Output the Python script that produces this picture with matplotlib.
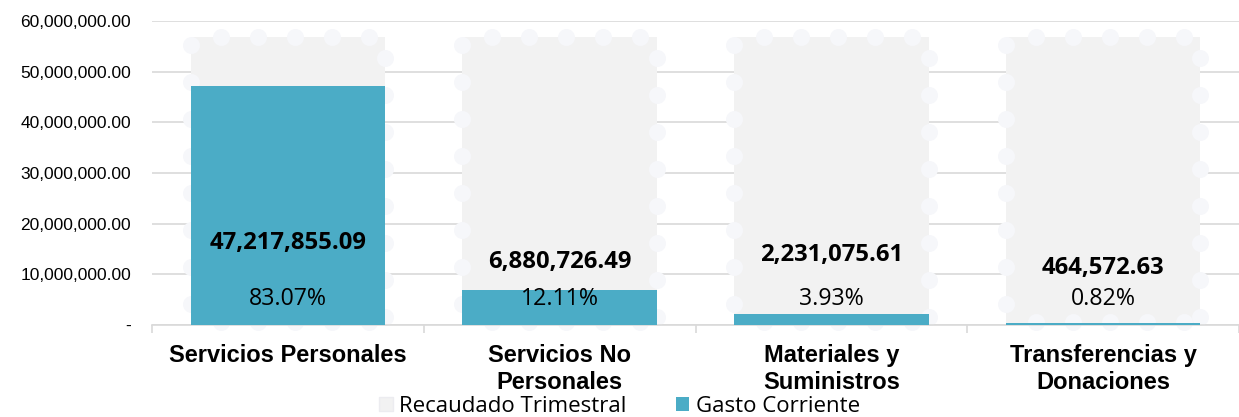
import matplotlib
matplotlib.use("Agg")
import matplotlib.pyplot as plt
import numpy as np
from matplotlib.patches import Patch
from matplotlib.ticker import FuncFormatter, FixedLocator

categories = ["Servicios Personales", "Servicios No\nPersonales", "Materiales y\nSuministros", "Transferencias y\nDonaciones"]
gasto = [47217855.09, 6880726.49, 2231075.61, 464572.63]
value_labels = ["47,217,855.09", "6,880,726.49", "2,231,075.61", "464,572.63"]
pct_labels = ["83.07%", "12.11%", "3.93%", "0.82%"]
recaudado_total = sum(gasto)
recaudado = [recaudado_total] * len(categories)
value_label_y = [16.2e6, 12.4e6, 13.8e6, 11.25e6]
pct_label_y = [5.1e6, 5.1e6, 5.1e6, 5.1e6]

blue = "#4BACC6"
gray = "#F2F2F2"
dot = "#F6F7FA"
bar_w = 0.715

fig = plt.figure(figsize=(12.39, 4.17), dpi=100)
ax = fig.add_axes([152/1239, 1-325/417, 1-152/1239, (325-21)/417])
ax.set_xlim(-0.5, len(categories) - 0.5)
ax.set_ylim(0, 60e6)

x = list(range(len(categories)))
ax.bar(x, recaudado, width=bar_w, color=gray, zorder=1)
ax.bar(x, gasto, width=bar_w, color=blue, zorder=3)

# scalloped border of the background bars (decoration derived from bar geometry)
spacing = 37.0
inv = ax.transData.inverted()
for i in x:
    (px0, py0) = ax.transData.transform((i - bar_w / 2, 0))
    (px1, py1) = ax.transData.transform((i + bar_w / 2, recaudado[i]))
    pts = []
    for t in np.arange(px0 + 30, px1 - 5, spacing):
        pts.append((t, py1))
    for t in np.arange(py1 - 8, py0 + 2, -spacing):
        pts.append((px0, t))
    for t in np.arange(py1 - 21, py0 + 2, -spacing):
        pts.append((px1, t))
    for t in np.arange(px0 + 30, px1 - 5, spacing):
        pts.append((t, py0 + 3))
    data_pts = inv.transform(np.array(pts))
    ax.scatter(data_pts[:, 0], data_pts[:, 1], s=150, color=dot, zorder=2,
               linewidths=0, clip_on=False)

for i in x:
    ax.text(i, value_label_y[i], value_labels[i], ha="center", va="center",
            fontsize=17.2, fontweight="bold", family="Open Sans", zorder=5)
    ax.text(i, pct_label_y[i], pct_labels[i], ha="center", va="center",
            fontsize=16.7, family="Open Sans", zorder=5)

ax.set_yticks([i * 10e6 for i in range(7)])
ax.yaxis.set_major_formatter(FuncFormatter(lambda v, p: "-" if v == 0 else f"{v:,.2f}"))
ax.tick_params(axis="y", length=0, labelsize=12.5, pad=15)
for lab in ax.get_yticklabels():
    lab.set_family("Liberation Sans")
ax.yaxis.grid(True, color="#D9D9D9", linewidth=1.2, zorder=0)
ax.set_axisbelow(True)

ax.set_xticks(x)
ax.set_xticklabels(categories, fontsize=17, fontweight="bold", family="Liberation Sans",
                   linespacing=1.22)
ax.tick_params(axis="x", length=0, pad=14)
ax.xaxis.set_minor_locator(FixedLocator([i - 0.5 for i in range(len(categories) + 1)]))
ax.tick_params(axis="x", which="minor", length=6, color="#D9D9D9", width=1.2)

for s in ["top", "right", "left"]:
    ax.spines[s].set_visible(False)
ax.spines["bottom"].set_color("#D9D9D9")
ax.spines["bottom"].set_linewidth(1.2)
ax.spines["bottom"].set_zorder(2.5)

handles = [Patch(facecolor=gray, edgecolor="#ECECF0", label="Recaudado Trimestral"),
           Patch(facecolor=blue, label="Gasto Corriente")]
fig.legend(handles=handles, loc="center", bbox_to_anchor=(0.5, 1-406/417), ncol=2,
           frameon=False, prop={"family": "Open Sans", "size": 16},
           handlelength=0.6, handleheight=0.6, columnspacing=2.2, handletextpad=0.3,
           borderpad=0)

fig.savefig("out.png", dpi=100)
